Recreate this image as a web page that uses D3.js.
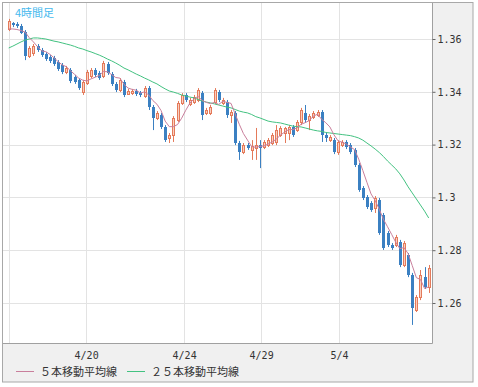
<!DOCTYPE html>
<html lang="ja">
<head>
    <meta charset="UTF-8">
    <title>4時間足</title>
    <script src="https://d3js.org/d3.v7.min.js"></script>
    <style>
        body { margin: 0; background: #fff; }
        svg { display: block; }
        .grid line { stroke: #e3e3e3; stroke-width: 1px; }
        .axis text { font-family: "DejaVu Sans Mono", monospace; font-size: 10px; fill: #333; }
        .legend text { font-family: "Noto Sans CJK JP", sans-serif; font-size: 11px; fill: #333; }
        .title { font-family: "Noto Sans CJK JP", sans-serif; font-size: 11px; fill: #45b9ee; }
    </style>
</head>
<body>
    <svg width="478" height="387"></svg>
    <script>
        // EUR 4h candles
        const open = [1.3638,1.3661,1.3657,1.3649,1.3627,1.3536,1.3547,1.3573,1.3558,1.3543,
            1.3532,1.3528,1.3513,1.3502,1.3475,1.3483,1.3456,1.3445,1.3399,1.3433,
            1.3460,1.3483,1.3471,1.3460,1.3505,1.3467,1.3430,1.3407,1.3437,1.3392,
            1.3395,1.3403,1.3395,1.3384,1.3414,1.3342,1.3301,1.3312,1.3267,1.3225,
            1.3236,1.3293,1.3358,1.3388,1.3354,1.3361,1.3369,1.3395,1.3320,1.3320,
            1.3361,1.3399,1.3358,1.3361,1.3312,1.3320,1.3206,1.3172,1.3198,1.3180,
            1.3187,1.3198,1.3191,1.3198,1.3206,1.3210,1.3236,1.3244,1.3244,1.3267,
            1.3255,1.3286,1.3320,1.3293,1.3305,1.3312,1.3323,1.3236,1.3217,1.3217,
            1.3172,1.3198,1.3210,1.3198,1.3180,1.3123,1.3036,1.3001,1.2979,1.2960,
            1.2990,1.2933,1.2865,1.2820,1.2820,1.2831,1.2744,1.2782,1.2706,1.2573,
            1.2623,1.2698,1.2660];
        const close = [1.3668,1.3653,1.3649,1.3623,1.3536,1.3566,1.3573,1.3558,1.3539,1.3524,
            1.3517,1.3505,1.3486,1.3475,1.3490,1.3441,1.3437,1.3414,1.3437,1.3475,
            1.3483,1.3464,1.3452,1.3509,1.3471,1.3430,1.3407,1.3445,1.3388,1.3403,
            1.3403,1.3392,1.3388,1.3414,1.3342,1.3301,1.3320,1.3267,1.3217,1.3236,
            1.3301,1.3358,1.3388,1.3369,1.3369,1.3380,1.3407,1.3312,1.3331,1.3342,
            1.3407,1.3369,1.3369,1.3312,1.3323,1.3206,1.3172,1.3198,1.3187,1.3195,
            1.3198,1.3187,1.3210,1.3217,1.3236,1.3255,1.3263,1.3263,1.3267,1.3236,
            1.3286,1.3331,1.3293,1.3308,1.3320,1.3323,1.3236,1.3225,1.3229,1.3172,
            1.3210,1.3210,1.3191,1.3172,1.3123,1.3029,1.2998,1.2964,1.2952,1.2998,
            1.2865,1.2808,1.2820,1.2808,1.2850,1.2744,1.2827,1.2706,1.2581,1.2623,
            1.2706,1.2660,1.2733];
        const high = [1.3676,1.3664,1.3664,1.3657,1.3634,1.3573,1.3581,1.3581,1.3566,1.3551,
            1.3539,1.3536,1.3520,1.3509,1.3498,1.3490,1.3464,1.3452,1.3445,1.3483,
            1.3490,1.3490,1.3479,1.3517,1.3513,1.3475,1.3437,1.3452,1.3445,1.3411,
            1.3411,1.3411,1.3403,1.3422,1.3422,1.3350,1.3327,1.3320,1.3274,1.3244,
            1.3308,1.3365,1.3395,1.3395,1.3377,1.3388,1.3414,1.3403,1.3339,1.3350,
            1.3414,1.3407,1.3377,1.3369,1.3331,1.3327,1.3214,1.3206,1.3206,1.3217,
            1.3263,1.3217,1.3217,1.3225,1.3244,1.3274,1.3270,1.3267,1.3274,1.3274,
            1.3293,1.3339,1.3350,1.3316,1.3327,1.3331,1.3331,1.3244,1.3236,1.3225,
            1.3217,1.3217,1.3217,1.3206,1.3187,1.3130,1.3043,1.3009,1.2986,1.3005,
            1.2998,1.2941,1.2873,1.2827,1.2858,1.2839,1.2835,1.2789,1.2714,1.2630,
            1.2725,1.2736,1.2744];
        const low = [1.3630,1.3645,1.3642,1.3619,1.3520,1.3528,1.3536,1.3551,1.3532,1.3517,
            1.3509,1.3498,1.3479,1.3467,1.3467,1.3433,1.3430,1.3407,1.3388,1.3426,
            1.3452,1.3456,1.3445,1.3452,1.3464,1.3422,1.3399,1.3399,1.3380,1.3388,
            1.3388,1.3384,1.3380,1.3377,1.3331,1.3255,1.3293,1.3259,1.3210,1.3206,
            1.3210,1.3286,1.3350,1.3361,1.3346,1.3354,1.3361,1.3293,1.3312,1.3312,
            1.3354,1.3361,1.3350,1.3301,1.3282,1.3198,1.3142,1.3164,1.3180,1.3142,
            1.3142,1.3111,1.3183,1.3191,1.3198,1.3198,1.3229,1.3206,1.3217,1.3229,
            1.3248,1.3274,1.3282,1.3255,1.3297,1.3305,1.3210,1.3210,1.3210,1.3164,
            1.3161,1.3191,1.3183,1.3164,1.3115,1.3021,1.2990,1.2956,1.2945,1.2941,
            1.2858,1.2801,1.2812,1.2801,1.2812,1.2736,1.2736,1.2698,1.2517,1.2566,
            1.2611,1.2653,1.2638];
        const ma5 = [1.3638,1.3638,1.3636,1.3632,1.3626,1.3605,1.3589,1.3571,1.3555,1.3552,
            1.3542,1.3529,1.3514,1.3502,1.3495,1.3480,1.3466,1.3452,1.3444,1.3441,
            1.3449,1.3455,1.3462,1.3477,1.3476,1.3465,1.3454,1.3452,1.3428,1.3414,
            1.3409,1.3406,1.3395,1.3400,1.3388,1.3367,1.3353,1.3329,1.3289,1.3268,
            1.3268,1.3276,1.3300,1.3330,1.3357,1.3373,1.3383,1.3367,1.3360,1.3355,
            1.3360,1.3352,1.3364,1.3360,1.3356,1.3316,1.3277,1.3242,1.3217,1.3192,
            1.3190,1.3193,1.3195,1.3202,1.3210,1.3221,1.3236,1.3247,1.3257,1.3257,
            1.3263,1.3277,1.3283,1.3291,1.3308,1.3315,1.3296,1.3283,1.3267,1.3237,
            1.3214,1.3209,1.3202,1.3191,1.3181,1.3145,1.3102,1.3057,1.3013,1.2988,
            1.2955,1.2917,1.2889,1.2860,1.2830,1.2806,1.2810,1.2787,1.2742,1.2696,
            1.2689,1.2655,1.2661];
        const ma25 = [1.3566,1.3573,1.3581,1.3589,1.3596,1.3600,1.3604,1.3604,1.3602,1.3600,
            1.3596,1.3592,1.3589,1.3585,1.3581,1.3577,1.3572,1.3566,1.3562,1.3556,
            1.3551,1.3545,1.3539,1.3532,1.3524,1.3517,1.3509,1.3500,1.3490,1.3483,
            1.3475,1.3467,1.3460,1.3452,1.3445,1.3437,1.3430,1.3420,1.3411,1.3403,
            1.3399,1.3394,1.3388,1.3384,1.3380,1.3377,1.3371,1.3365,1.3361,1.3358,
            1.3354,1.3350,1.3346,1.3342,1.3339,1.3333,1.3327,1.3323,1.3320,1.3314,
            1.3306,1.3301,1.3295,1.3289,1.3286,1.3284,1.3282,1.3278,1.3274,1.3270,
            1.3268,1.3267,1.3263,1.3259,1.3255,1.3252,1.3250,1.3246,1.3244,1.3242,
            1.3240,1.3238,1.3236,1.3234,1.3230,1.3225,1.3217,1.3206,1.3195,1.3183,
            1.3170,1.3155,1.3138,1.3123,1.3108,1.3089,1.3066,1.3040,1.3017,1.2994,
            1.2971,1.2948,1.2922];

        const yTicks = [1.26, 1.28, 1.30, 1.32, 1.34, 1.36];
        const xTickPos = [0.1, 18.8, 42.6, 61.3, 80.2];   // bar index of each day line
        const xTickLabels = ["", "4/20", "4/24", "4/29", "5/4"];
        const legendNames = ["５本移動平均線", "２５本移動平均線"];

        const upStroke = "#e47a5a", upFill = "#f9cfc0", downColor = "#3b80c2";
        const ma5Color = "#c97f9c", ma25Color = "#43c281";

        const svg = d3.select("svg");
        const plot = { left: 3, top: 3, right: 432, bottom: 343 };

        const x = d3.scaleLinear().domain([0, close.length - 1]).range([8.7, 428.7]);
        const y = d3.scaleLinear().domain([1.26, 1.36]).range([303, 39]);

        // outer panel
        svg.append("rect")
            .attr("x", 2.5).attr("y", 2.5).attr("width", 470.5).attr("height", 379.5)
            .attr("fill", "#f0f0f0").attr("stroke", "#a8a8a8");

        svg.append("rect")
            .attr("x", plot.left).attr("y", plot.top)
            .attr("width", plot.right - plot.left).attr("height", plot.bottom - plot.top)
            .attr("fill", "#fff");

        svg.append("clipPath").attr("id", "clip")
            .append("rect")
            .attr("x", plot.left).attr("y", plot.top)
            .attr("width", plot.right - plot.left).attr("height", plot.bottom - plot.top);

        // grid
        const grid = svg.append("g").attr("class", "grid");
        grid.selectAll(".hg").data(yTicks).enter().append("line")
            .attr("x1", plot.left).attr("x2", plot.right)
            .attr("y1", d => Math.round(y(d)) + 0.5).attr("y2", d => Math.round(y(d)) + 0.5);
        grid.selectAll(".vg").data(xTickPos).enter().append("line")
            .attr("y1", plot.top).attr("y2", plot.bottom)
            .attr("x1", d => Math.round(x(d)) + 0.5).attr("x2", d => Math.round(x(d)) + 0.5);

        const g = svg.append("g").attr("clip-path", "url(#clip)");

        const bars = d3.range(close.length).map(i => ({
            i, o: open[i], h: high[i], l: low[i], c: close[i], up: close[i] >= open[i]
        }));
        const cx = d => Math.round(x(d.i)) + 0.5;

        const candle = g.selectAll(".candle").data(bars).enter().append("g");

        candle.append("line")
            .attr("x1", cx).attr("x2", cx)
            .attr("y1", d => y(d.h)).attr("y2", d => y(d.l))
            .attr("stroke", d => d.up ? upStroke : downColor);

        candle.filter(d => d.up).append("rect")
            .attr("x", d => cx(d) - 1)
            .attr("y", d => Math.round(y(d.c)) + 0.5)
            .attr("width", 2)
            .attr("height", d => Math.max(1, Math.round(y(d.o)) - Math.round(y(d.c))))
            .attr("fill", upFill).attr("stroke", upStroke);

        candle.filter(d => !d.up).append("rect")
            .attr("x", d => cx(d) - 1.5)
            .attr("y", d => Math.round(y(d.o)))
            .attr("width", 3)
            .attr("height", d => Math.max(1, Math.round(y(d.c)) - Math.round(y(d.o))))
            .attr("fill", downColor);

        // moving averages
        const line = d3.line().x((d, i) => x(i)).y(d => y(d));
        g.append("path").datum(ma25)
            .attr("d", line).attr("fill", "none")
            .attr("stroke", ma25Color).attr("stroke-width", 1);
        g.append("path").datum(ma5)
            .attr("d", line).attr("fill", "none")
            .attr("stroke", ma5Color).attr("stroke-width", 1);

        // plot border (right + bottom)
        svg.append("path")
            .attr("d", `M${plot.right + 0.5},${plot.top} V${plot.bottom + 0.5} H${plot.left}`)
            .attr("fill", "none").attr("stroke", "#a0a0a0");

        svg.append("text").attr("class", "title")
            .attr("x", 15).attr("y", 17).text("4時間足");

        // right price axis
        const yAxis = d3.axisRight(y)
            .tickValues(yTicks)
            .tickSize(3)
            .tickPadding(2)
            .tickFormat(d => String(+d.toFixed(2)));
        svg.append("g").attr("class", "axis")
            .attr("transform", `translate(${plot.right + 0.5},0)`)
            .call(yAxis)
            .call(a => a.select(".domain").remove())
            .call(a => a.selectAll(".tick line").attr("stroke", "#666"));

        // bottom date axis
        const xAxis = d3.axisBottom(x)
            .tickValues(xTickPos)
            .tickSize(0)
            .tickPadding(9)
            .tickFormat((d, i) => xTickLabels[i]);
        svg.append("g").attr("class", "axis")
            .attr("transform", `translate(0,${plot.bottom})`)
            .call(xAxis)
            .call(a => a.select(".domain").remove());

        // legend
        const legend = svg.append("g").attr("class", "legend");
        const items = [
            { name: legendNames[0], color: ma5Color, x: 16 },
            { name: legendNames[1], color: ma25Color, x: 127 }
        ];
        items.forEach(it => {
            legend.append("line")
                .attr("x1", it.x).attr("x2", it.x + 18)
                .attr("y1", 371.5).attr("y2", 371.5)
                .attr("stroke", it.color);
            legend.append("text")
                .attr("x", it.x + 24).attr("y", 376)
                .text(it.name);
        });
    </script>
</body>
</html>
